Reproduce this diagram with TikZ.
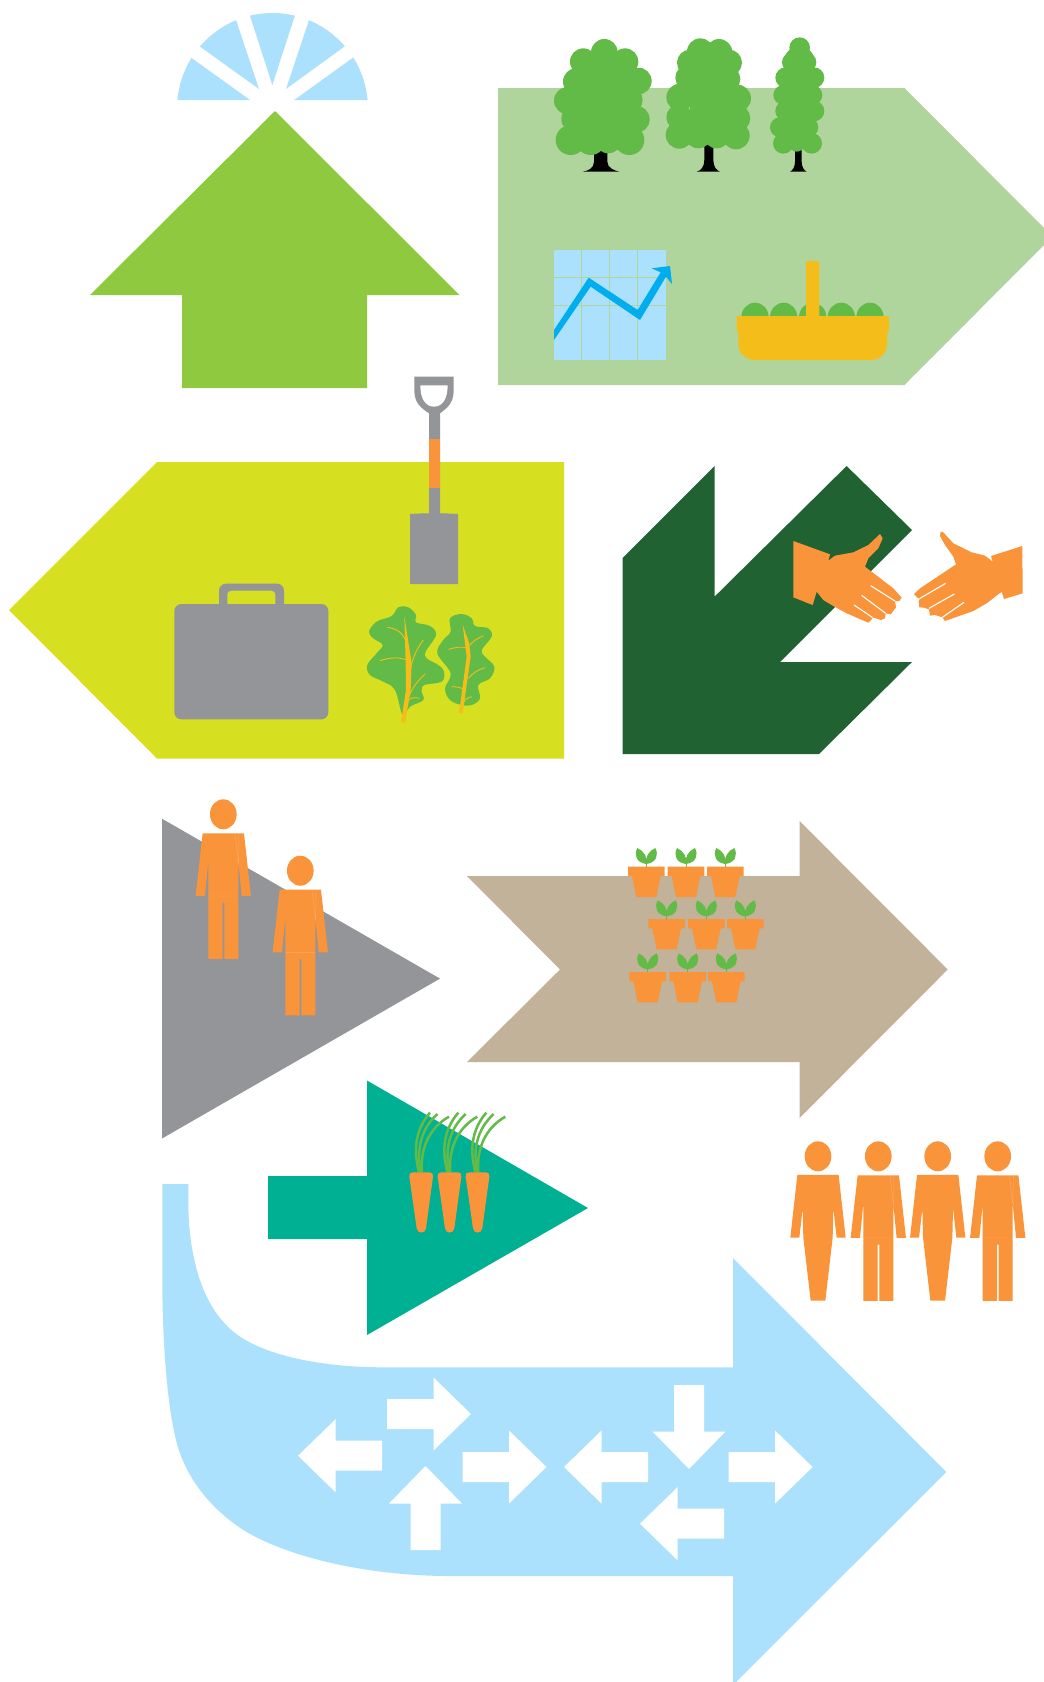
\documentclass[tikz,border=0pt]{standalone}
\usetikzlibrary{calc}
\definecolor{skyb}{HTML}{ABE1FC}
\definecolor{lime}{HTML}{8EC93F}
\definecolor{sage}{HTML}{B0D59C}
\definecolor{leafg}{HTML}{62BB46}
\definecolor{acid}{HTML}{D6DF20}
\definecolor{forest}{HTML}{216233}
\definecolor{greyb}{HTML}{939598}
\definecolor{tan}{HTML}{C1B299}
\definecolor{teal2}{HTML}{00B092}
\definecolor{orng}{HTML}{F9943B}
\definecolor{gold}{HTML}{F5BD19}
\definecolor{cyan2}{HTML}{00AEEF}
\tikzset{zoomed/.style={scale=0.33333},
 paleline/.style={draw=white,opacity=.22,line width=.4pt}}
\newcommand{\manfig}[2]{\begin{scope}[shift={(#1,#2)},zoomed]
 \fill[orng] (0,0) ellipse (40 and 45);
 \fill[orng] (-62,57)--(62,57)--(83,245)--(55,245)--(45,142)--(45,434)--(3,434)--(3,265)--(-2,265)--(-2,434)--(-45,434)--(-45,142)--(-55,245)--(-83,245)--cycle;
 \draw[paleline] (-45,245)--(45,245) (35,57)--(45,142) (47,57)--(46,150);
 \end{scope}}
\newcommand{\womanfig}[2]{\begin{scope}[shift={(#1,#2)},zoomed]
 \fill[orng] (0,0) ellipse (40 and 45);
 \fill[orng] (-62,56)--(62,56)--(83,244)--(56,244)--(46,156)--(44,244)--(22,433)--(-22,433)--(-44,244)--(-46,156)--(-56,244)--(-83,244)--cycle;
 \end{scope}}
\newcommand{\potfig}[2]{\begin{scope}[shift={(#1,#2)}]
 \draw[leafg,line width=1pt] (0,0)--(0,-18);
 \fill[leafg] (0,-8) .. controls (-30,-12) and (-38,-35) .. (-27,-56) .. controls (-8,-48) and (5,-28) .. (0,-8)--cycle;
 \fill[leafg] (0,-8) .. controls (30,-12) and (38,-35) .. (27,-56) .. controls (8,-48) and (-5,-28) .. (0,-8)--cycle;
 \fill[orng] (-55,0)--(55,0)--(55,28)--(43,28)--(30,91)--(-30,91)--(-43,28)--(-55,28)--cycle;
 \end{scope}}
\newcommand{\carrotfig}[1]{\begin{scope}[shift={(#1,0)}]
 \draw[leafg,line width=2.5pt] (57,217) .. controls (40,150) and (45,90) .. (90,38);
 \draw[leafg,line width=2.5pt] (62,217) .. controls (50,150) and (60,90) .. (112,42);
 \draw[leafg,line width=2.5pt] (66,217) .. controls (60,150) and (85,85) .. (147,50);
 \fill[orng] (38,217)--(89,217) .. controls (97,217) and (100,222) .. (99,230)--(78,385) .. controls (76,402) and (52,402) .. (50,385)--(28,230) .. controls (27,222) and (30,217) .. (38,217)--cycle;
 \end{scope}}
\newcommand{\wharrow}[3]{\fill[white,shift={(#1,#2)},rotate=#3] (0,-15)--(46.5,-15)--(46.5,-36.5)--(84,0)--(46.5,36.5)--(46.5,15)--(0,15)--cycle;}
\begin{document}
\begin{tikzpicture}[x=1pt,y=-1pt]
\useasboundingbox (0,0) rectangle (1044,1682);
\fill[white] (0,0) rectangle (1044,1682);
% fan
\begin{scope}
\clip (272.5,108.4) circle (95.4);
\fill[skyb] (250,100)--(150,100)--(163,37.5)--cycle;
\fill[skyb] (259,89)--(163,20)--(220,-28)--cycle;
\fill[skyb] (272.3,85)--(232,-40)--(313,-40)--cycle;
\fill[skyb] (286,89)--(325,-28)--(381,20)--cycle;
\fill[skyb] (294.3,100)--(381,37.5)--(394,100)--cycle;
\end{scope}
% up arrow
\fill[lime] (275,111)--(459.5,295)--(367,295)--(367,388)--(182,388)--(182,295)--(90,295)--cycle;
% sage pentagon
\fill[sage] (498,88)--(904.5,88)--(1044,228)--(1044,245)--(904.5,385)--(498,385)--cycle;
\begin{scope}[shift={(520,20)},zoomed]
 % tree 1
 \fill[black] (222,380)--(262,380)--(262,425) .. controls (262,445) and (285,452) .. (298,455)--(188,455) .. controls (205,452) and (222,445) .. (222,425)--cycle;
 \fill[leafg] (180,130) rectangle (330,380);
 \foreach \cx/\cy/\cr in {253/97/40,190/125/40,315/125/40,170/185/41,355/183/40,143/242/41,330/240/38,165/297/41,348/298/41,152/360/45,212/360/45,265/360/40,328/360/45}
  \fill[leafg] (\cx,\cy) circle (\cr);
 % tree 2
 \fill[black] (553,370)--(580,370)--(580,420) .. controls (580,440) and (590,452) .. (600,455)--(530,455) .. controls (543,452) and (553,440) .. (553,420)--cycle;
 \fill[leafg] (510,120) rectangle (630,370);
 \foreach \cx/\cy/\cr in {541/95/40,597/97/40,510/128/39,627/128/39,505/173/39,622/177/39,480/232/41,652/235/41,478/292/39,652/295/39,478/345/41,648/347/41,535/345/40,590/345/40}
  \fill[leafg] (\cx,\cy) circle (\cr);
 % tree 3
 \fill[black] (825,380)--(845,380)--(845,425) .. controls (845,440) and (852,452) .. (860,455)--(810,455) .. controls (818,452) and (825,440) .. (825,425)--cycle;
 \fill[leafg] (800,110) rectangle (875,385);
 \foreach \cx/\cy/\cr in {839/83/31,838/125/46,815/127/29,860/127/29,797/173/31,882/173/31,790/225/30,877/225/30,797/273/31,882/273/31,780/322/30,865/322/30,790/370/31,875/370/31,830/370/25}
  \fill[leafg] (\cx,\cy) circle (\cr);
 % chart
 \fill[skyb] (102,690) rectangle (437,1020);
 \draw[sage,line width=1pt] (185,690)--(185,1020) (268,690)--(268,1020) (353,690)--(353,1020) (102,772)--(437,772) (102,856)--(437,856);
 \fill[cyan2] (102,930)--(206,773)--(353,870)--(422,757)--(395,745)--(450,738)--(456,792)--(438,770)--(360,900)--(212,800)--(102,960)--cycle;
 % basket
 \foreach \cx in {705,791,878,964,1050} \fill[leafg] (\cx,892) ellipse (41 and 44);
 \fill[gold] (650,888)--(858,888)--(858,730) .. controls (858,725) and (860,723) .. (865,723)--(891,723) .. controls (896,723) and (898,725) .. (898,730)--(898,888)--(1107,888)--(1107,930)--(1102,938)--(1102,970) .. controls (1102,1000) and (1080,1020) .. (1052,1020)--(705,1020) .. controls (677,1020) and (655,1000) .. (655,970)--(655,938)--(650,930)--cycle;
\end{scope}
% acid pentagon
\fill[acid] (9,610)--(157,462)--(564,462)--(564,758.5)--(157,758.5)--cycle;
\begin{scope}[shift={(160,370)},zoomed]
 % shovel
 \fill[greyb] (763,20)--(881,20)--(881,62) .. controls (881,100) and (860,115) .. (840,130)--(840,430) .. controls (860,430) and (880,431) .. (894,432)--(894,642)--(750,642)--(750,432) .. controls (765,431) and (785,430) .. (807,430)--(807,130) .. controls (785,115) and (763,100) .. (763,62)--cycle;
 \fill[white] (781,46)--(863,46) .. controls (863,85) and (848,110) .. (822,110) .. controls (796,110) and (781,85) .. (781,46)--cycle;
 \fill[orng] (807,207) rectangle (840,353);
 % briefcase
 \fill[greyb,rounded corners=7pt] (177,720)--(177,641)--(372,641)--(372,720)--cycle;
 \fill[acid,rounded corners=4pt] (202,720)--(202,662)--(346,662)--(346,720)--cycle;
 \fill[greyb,rounded corners=7pt] (43,702) rectangle (505,1048);
 % leaves
 \fill[leafg] plot[smooth cycle,tension=.6] coordinates {(728,1035)(705,960)(670,935)(630,915)(622,885)(650,850)(668,825)(640,805)(627,785)(650,755)(695,738)(715,712)(745,712)(768,735)(768,757)(810,768)(828,795)(797,845)(800,865)(835,885)(852,905)(845,935)(793,945)(785,965)(790,990)(750,1010)};
 \fill[leafg] plot[smooth cycle,tension=.6] coordinates {(905,1005)(870,990)(855,955)(872,910)(832,850)(850,810)(872,785)(870,745)(905,732)(935,745)(945,768)(985,775)(995,800)(965,840)(975,860)(1003,890)(990,925)(955,945)(960,985)(935,1005)};
 \fill[gold] (723,1055)--(735,1060)--(752,960)--(755,880)--(733,738)--(737,880)--(738,960)--cycle;
 \fill[gold] (897,1030)--(908,1030)--(932,860)--(928,820)--(908,765)--(920,860)--cycle;
 \draw[gold,line width=.9pt] (745,872) .. controls (720,860) and (690,862) .. (660,872);
 \draw[gold,line width=.9pt] (738,815) .. controls (730,790) and (710,775) .. (682,772);
 \draw[gold,line width=.9pt] (750,905) .. controls (755,870) and (770,835) .. (790,810);
 \draw[gold,line width=.9pt] (745,985) .. controls (755,955) and (775,930) .. (795,912);
 \draw[gold,line width=.9pt] (745,990) .. controls (755,982) and (765,982) .. (778,985);
 \draw[gold,line width=.9pt] (925,835) .. controls (905,828) and (885,832) .. (866,838);
 \draw[gold,line width=.9pt] (930,825) .. controls (940,812) and (955,803) .. (970,798);
 \draw[gold,line width=.9pt] (925,925) .. controls (940,908) and (955,898) .. (975,893);
 \draw[gold,line width=.9pt] (917,962) .. controls (905,952) and (890,950) .. (875,950);
 \draw[gold,line width=.9pt] (912,995) .. controls (918,985) and (925,982) .. (935,980);
\end{scope}
% forest arrow
\fill[forest] (714.6,466)--(714.6,596.6)--(846.6,466)--(912,530)--(780,662)--(912,662)--(819,754)--(622.6,754)--(622.6,558)--cycle;
% hands
\begin{scope}[shift={(780,520)},zoomed]
 \fill[orng] (40,63)--(150,103)--(145,122)--(165,107)--(220,97)--(265,75)--(300,42)--(308,55)--(295,85)--(265,115)--(255,140)--(340,205)--(365,233)--(358,243)--(345,243)--(348,262)--(332,283)--(317,280)--(315,295)--(303,300)--(277,292)--(275,298)--(265,308)--(200,280)--(160,258)--(130,240)--(110,215)--(98,255)--(40,232)--cycle;
 \draw[white,line width=1.1pt] (272,197)--(345,243) (245,226)--(317,280) (222,255)--(277,292);
 \fill[orng] (482,35)--(490,37)--(520,70)--(575,97)--(615,107)--(638,125)--(633,108)--(727,78)--(728,220)--(672,237)--(665,215)--(620,250)--(580,273)--(495,303)--(487,292)--(465,285)--(450,287)--(447,268)--(432,263)--(418,262)--(416,245)--(420,235)--(412,233)--(402,222)--(420,205)--(528,133)--(520,110)--(495,75)--(480,48)--cycle;
 \draw[white,line width=1.1pt] (420,235)--(497,190) (447,265)--(523,222) (487,292)--(552,247);
\end{scope}
% grey triangle + men
\fill[greyb] (162,818.7)--(440,978.6)--(162,1138.5)--cycle;
\manfig{223.3}{814.3}
\manfig{300.3}{870.7}
% tan arrow
\fill[tan] (467,876)--(799.6,876)--(799.6,821)--(947.7,969.5)--(799.6,1118)--(799.6,1062)--(467,1062)--(560,969.5)--cycle;
\begin{scope}[shift={(620,835)},zoomed]
 \foreach \px in {79,198,316} {\potfig{\px}{95}}
 \foreach \px in {140,259,376} {\potfig{\px}{252}}
 \foreach \px in {83,203,319} {\potfig{\px}{411}}
\end{scope}
% light blue curved arrow
\fill[skyb] (162.3,1184)--(188.3,1184)--(188.3,1200) .. controls (188.3,1263.3) and (205,1308.3) .. (233.3,1331.7) .. controls (261.7,1355) and (320,1367.3) .. (383,1367.3)--(733,1367.3)--(733,1258)--(946.4,1472)--(736,1682)--(733,1682)--(733,1576)--(450,1576) .. controls (366.7,1576) and (286.7,1556.7) .. (243.3,1530) .. controls (213.3,1510) and (191.7,1485) .. (180,1453.3) .. controls (168.3,1421.7) and (162.3,1346.7) .. (162.3,1280)--cycle;
\wharrow{382}{1455.7}{180}
\wharrow{387}{1414}{0}
\wharrow{425.5}{1550}{90}
\wharrow{462.5}{1467}{0}
\wharrow{648}{1467}{180}
\wharrow{689}{1385}{270}
\wharrow{728.6}{1467}{0}
\wharrow{724}{1523.7}{180}
% teal arrow
\fill[teal2] (268,1176)--(367,1176)--(367,1080.5)--(588,1208)--(367,1335)--(367,1239)--(268,1239)--cycle;
\begin{scope}[shift={(400,1100)},zoomed]
 \carrotfig{0}
 \carrotfig{85}
 \carrotfig{169}
\end{scope}
% group
\womanfig{818}{1156.3}
\manfig{878.3}{1156.3}
\womanfig{937.7}{1156.3}
\manfig{997.7}{1156.3}
\end{tikzpicture}
\end{document}
